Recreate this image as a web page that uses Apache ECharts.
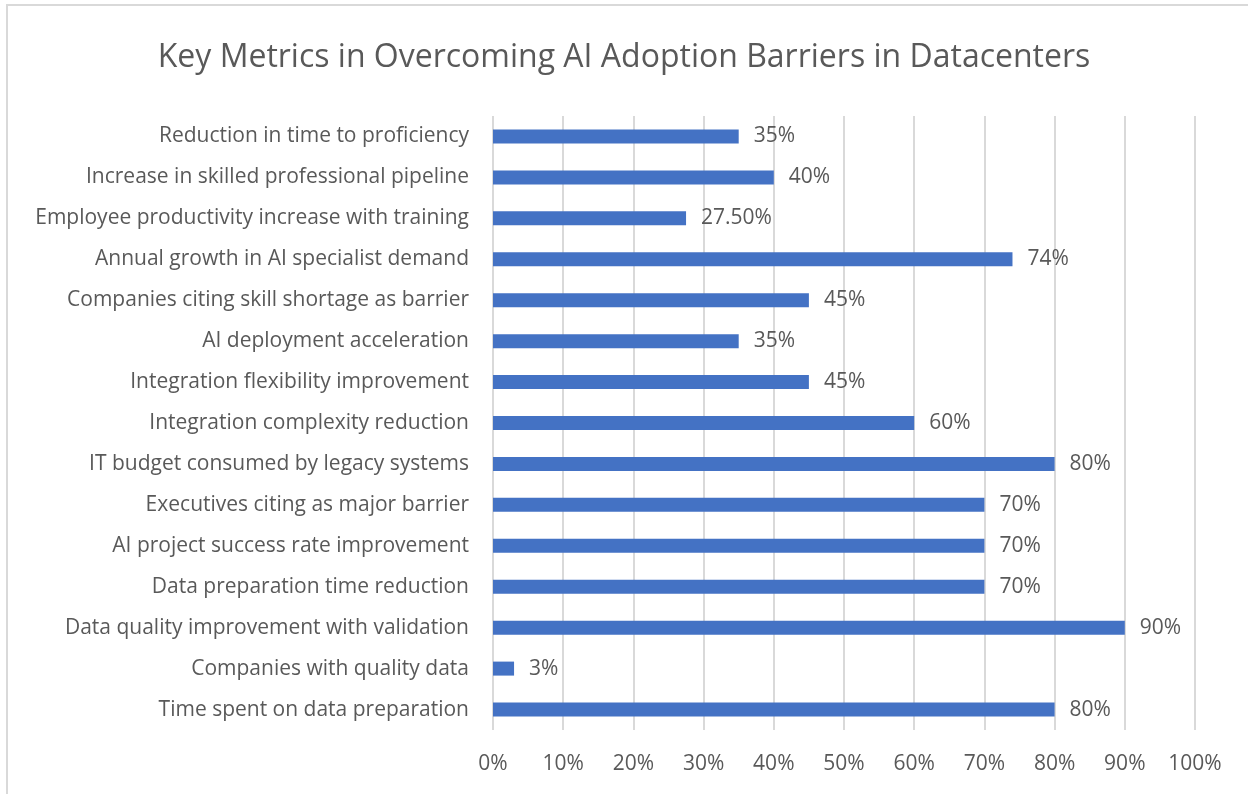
<!DOCTYPE html>
<html>
<head>
<meta charset="utf-8">
<script src="https://cdn.jsdelivr.net/npm/echarts@6/dist/echarts.min.js"></script>
<style>
  html, body { margin: 0; padding: 0; background: #fff; }
  #chart { width: 1248px; height: 794px; }
</style>
</head>
<body>
<div id="chart"></div>
<script>
// bottom to top, as drawn
const categories = [
    "Time spent on data preparation",
    "Companies with quality data",
    "Data quality improvement with validation",
    "Data preparation time reduction",
    "AI project success rate improvement",
    "Executives citing as major barrier",
    "IT budget consumed by legacy systems",
    "Integration complexity reduction",
    "Integration flexibility improvement",
    "AI deployment acceleration",
    "Companies citing skill shortage as barrier",
    "Annual growth in AI specialist demand",
    "Employee productivity increase with training",
    "Increase in skilled professional pipeline",
    "Reduction in time to proficiency"
];
const values = [0.8, 0.03, 0.9, 0.7, 0.7, 0.7, 0.8, 0.6, 0.45, 0.35, 0.45, 0.74, 0.275, 0.4, 0.35];
const valueLabels = ["80%", "3%", "90%", "70%", "70%", "70%", "80%", "60%", "45%", "35%", "45%", "74%", "27.50%", "40%", "35%"];

const font = "'Open Sans', 'Noto Sans', sans-serif";
const textColor = "#595959";

const chart = echarts.init(document.getElementById("chart"));

const option = {
    animation: false,
    title: {
        text: "Key Metrics in Overcoming AI Adoption Barriers in Datacenters",
        left: "center",
        top: 37,
        textStyle: { fontFamily: font, fontSize: 32, fontWeight: "normal", color: textColor }
    },
    graphic: [
        {
            type: "rect",
            shape: { x: 7, y: 5, width: 1300, height: 850 },
            style: { fill: "none", stroke: "#d9d9d9", lineWidth: 2 },
            silent: true
        }
    ],
    grid: { left: 493, right: 53, top: 116, bottom: 64 },
    xAxis: {
        type: "value",
        min: 0,
        max: 1,
        interval: 0.1,
        axisLine: { show: false },
        axisTick: { show: false },
        axisLabel: {
            margin: 24,
            fontFamily: font,
            fontSize: 21,
            color: textColor,
            formatter: (v) => Math.round(v * 100) + "%"
        },
        splitLine: { lineStyle: { color: "#d9d9d9", width: 2 } }
    },
    yAxis: {
        type: "category",
        data: categories,
        axisLine: { show: false },
        axisTick: { show: false },
        axisLabel: {
            margin: 24,
            fontFamily: font,
            fontSize: 21,
            color: textColor
        }
    },
    series: [
        {
            type: "bar",
            data: values,
            barWidth: 14,
            itemStyle: { color: "#4472C4" },
            label: {
                show: true,
                position: "right",
                distance: 15,
                fontFamily: font,
                fontSize: 21,
                color: textColor,
                formatter: (p) => valueLabels[p.dataIndex]
            }
        }
    ]
};

chart.setOption(option);
</script>
</body>
</html>
